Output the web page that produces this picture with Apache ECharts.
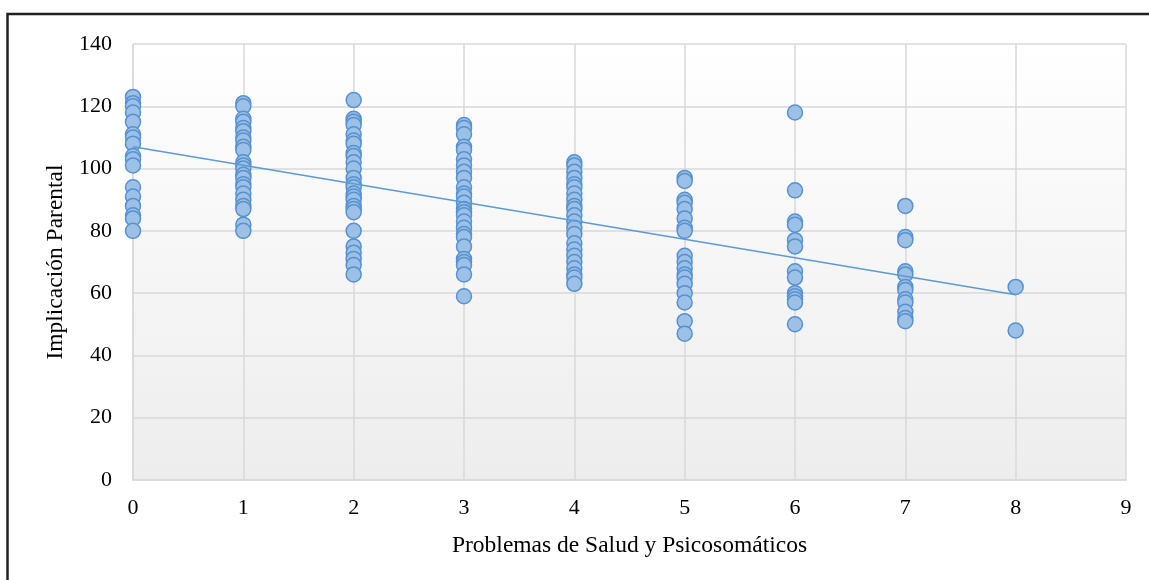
<!DOCTYPE html>
<html>
<head>
<meta charset="utf-8">
<script src="https://cdn.jsdelivr.net/npm/echarts@6/dist/echarts.min.js"></script>
<style>html,body{margin:0;padding:0;background:#fff;}#chart{width:1149px;height:580px;}</style>
</head>
<body>
<div id="chart"></div>
<script>
// Implicación Parental values per "Problemas de Salud y Psicosomáticos" score
const col0 = [123, 121, 120, 118, 115, 111, 110, 108, 104, 103, 101, 94, 91, 88, 85, 84, 80];
const col1 = [121, 120, 116, 115, 113, 112, 110, 109, 107, 106, 102, 101, 100, 98, 97, 95, 94, 92, 90, 88, 87, 82, 80];
const col2 = [122, 116, 115, 114, 111, 109, 108, 105, 104, 102, 100, 97, 95, 94, 92, 91, 90, 88, 87, 86, 80, 75, 73, 71, 69, 66];
const col3 = [114, 113, 111, 107, 106, 103, 101, 99, 97, 94, 92, 91, 89, 87, 86, 85, 83, 81, 79, 78, 75, 71, 70, 69, 66, 59];
const col4 = [102, 101, 99, 97, 95, 94, 92, 90, 88, 87, 85, 83, 81, 79, 76, 74, 72, 70, 68, 66, 65, 63];
const col5 = [97, 96, 90, 89, 87, 84, 81, 80, 72, 70, 68, 66, 65, 63, 60, 57, 51, 47];
const col6 = [118, 93, 83, 82, 77, 75, 67, 65, 60, 59, 58, 57, 50];
const col7 = [88, 78, 77, 67, 66, 62, 61, 58, 57, 54, 52, 51];
const col8 = [62, 48];
const columns = [col0, col1, col2, col3, col4, col5, col6, col7, col8];
// Trend line: x values and y values at its ends
const trendX = [0, 8];
const trendY = [107, 59.5];
const xTicks = [0, 1, 2, 3, 4, 5, 6, 7, 8, 9];
const yTicks = [0, 20, 40, 60, 80, 100, 120, 140];
const xName = 'Problemas de Salud y Psicosomáticos';
const yName = 'Implicación Parental';

const points = [];
columns.forEach((col, i) => col.forEach(v => points.push([i, v])));
const trend = trendX.map((x, i) => [x, trendY[i]]);

const font = 'Liberation Serif';
const chart = echarts.init(document.getElementById('chart'), null, {renderer: 'canvas'});
chart.setOption({
  backgroundColor: '#ffffff',
  animation: false,
  graphic: [{
    type: 'rect', shape: {x: 7.5, y: 14, width: 1200, height: 700},
    style: {fill: 'none', stroke: '#231f20', lineWidth: 2.5}, z: 100, silent: true
  }],
  grid: {
    left: 133, right: 23, top: 44, bottom: 100, show: true, borderWidth: 0,
    backgroundColor: new echarts.graphic.LinearGradient(0, 0, 0, 1, [
      {offset: 0, color: '#ffffff'}, {offset: 1, color: '#ededed'}
    ])
  },
  xAxis: {
    type: 'value', min: xTicks[0], max: xTicks[xTicks.length - 1], interval: 1,
    name: xName, nameLocation: 'middle', nameGap: 54,
    nameTextStyle: {fontFamily: font, fontSize: 23.5, color: '#000'},
    axisLine: {show: true, lineStyle: {color: '#d9d9d9', width: 1.5}},
    axisTick: {show: false},
    axisLabel: {fontFamily: font, fontSize: 22, color: '#000', margin: 17},
    splitLine: {show: true, lineStyle: {color: '#d9d9d9', width: 1.5}}
  },
  yAxis: {
    type: 'value', min: yTicks[0], max: yTicks[yTicks.length - 1], interval: 20,
    name: yName, nameLocation: 'middle', nameGap: 56,
    nameTextStyle: {fontFamily: font, fontSize: 23.5, color: '#000'},
    axisLine: {show: true, lineStyle: {color: '#d9d9d9', width: 1.5}},
    axisTick: {show: false},
    axisLabel: {fontFamily: font, fontSize: 22, color: '#000', margin: 21},
    splitLine: {show: true, lineStyle: {color: '#d9d9d9', width: 1.5}}
  },
  series: [{
    type: 'scatter', data: points, symbol: 'circle', symbolSize: 15,
    itemStyle: {color: '#9dc0e6', borderColor: '#5592d2', borderWidth: 1.5, opacity: 1}
  }, {
    type: 'line', data: trend, showSymbol: false, symbol: 'none',
    lineStyle: {color: '#5b9bd5', width: 1.5}, z: 3
  }]
});
</script>
</body>
</html>
